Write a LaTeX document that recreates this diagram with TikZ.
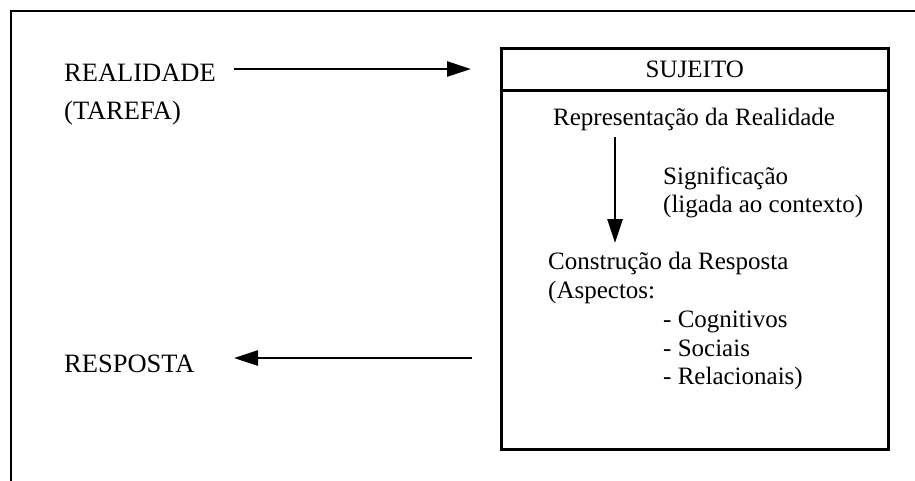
\documentclass[tikz,border=0pt]{standalone}
\usepackage{fontspec}
\setmainfont{Liberation Serif}
\usetikzlibrary{arrows.meta}
\tikzset{
  txt/.style={anchor=base west, inner sep=0pt, font=\fontsize{25}{29}\selectfont},
  bigtxt/.style={anchor=base west, inner sep=0pt, font=\fontsize{26.5}{30}\selectfont},
  frameline/.style={line width=2.6pt},
  arr/.style={line width=2.8pt, -{Triangle[length=24pt,width=15pt]}},
  boxpart/.style={draw, line width=2.6pt, anchor=north west, inner sep=0pt}
}
\begin{document}
\begin{tikzpicture}[x=1pt,y=-1pt]
\useasboundingbox (0,0) rectangle (915,480);
% outer frame (only top and left edges visible)
\coordinate (fb) at (11,490);
\coordinate (fc) at (11,11);
\coordinate (fr) at (925,11);
\draw[frameline] (fb) -- (fc) -- (fr);
% subject box
\node[boxpart, minimum width=387pt, minimum height=42pt] (head) at (500,47) {};
\node[txt, anchor=center] (sujeito) at (head.center) {SUJEITO};
\node[boxpart, minimum width=387pt, minimum height=359pt] (body) at (500,89) {};
% left labels
\node[bigtxt] (real) at (64,81) {REALIDADE};
\node[bigtxt] (tarefa) at (64,119) {(TAREFA)};
\node[bigtxt] (resp) at (64,372) {RESPOSTA};
% inner texts
\node[txt] (repr) at (553,125) {Representação da Realidade};
\node[txt] (sig) at (663,184) {Significação};
\node[txt] (lig) at (663,212) {(ligada ao contexto)};
\node[txt] (constr) at (548,269) {Construção da Resposta};
\node[txt] (asp) at (548,298) {(Aspectos:};
\node[txt] (cog) at (663,327) {- Cognitivos};
\node[txt] (soc) at (663,356) {- Sociais};
\node[txt] (rel) at (663,384) {- Relacionais)};
% connectors
\coordinate (a1s) at (234,69);
\coordinate (a1e) at (471,69);
\draw[arr] (a1s) -- (a1e);
\coordinate (a2s) at (615,137);
\coordinate (a2e) at (615,243);
\draw[arr] (a2s) -- (a2e);
\coordinate (a3s) at (472,358);
\coordinate (a3e) at (234,358);
\draw[arr] (a3s) -- (a3e);
\end{tikzpicture}
\end{document}
